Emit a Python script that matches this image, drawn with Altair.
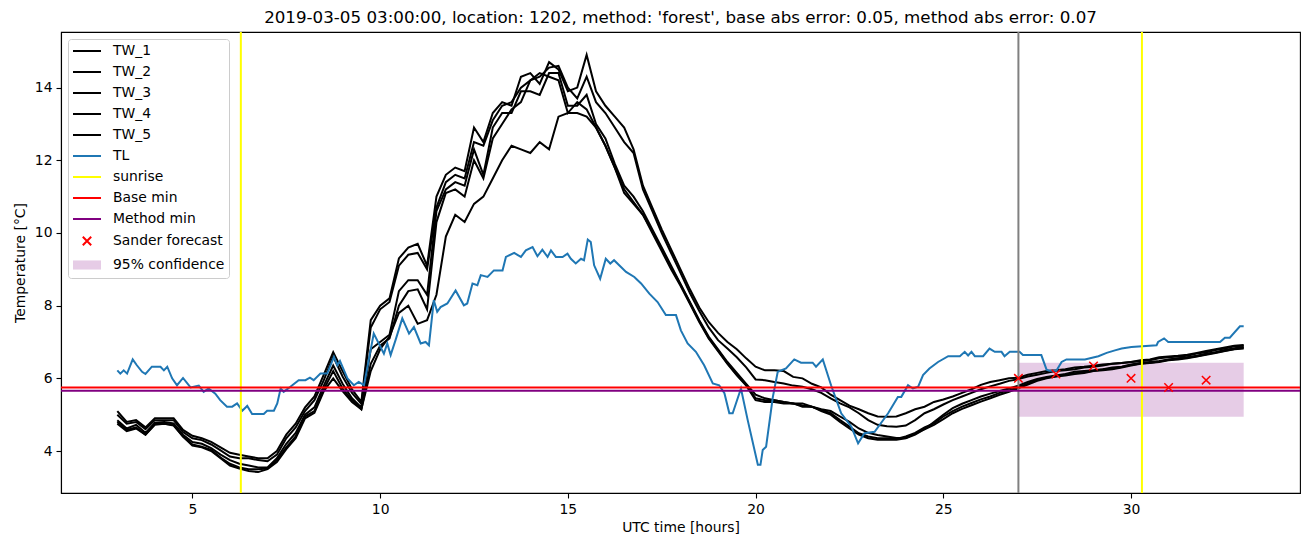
import altair as alt
import pandas as pd

# ---------------- data ----------------
hours = [3 + 0.25 * i for i in range(121)]

TW_1 = [5.1, 4.8, 4.85, 4.65,  4.9, 4.9, 4.9, 4.58,  4.42, 4.35, 4.25, 4.1,
        3.95, 3.9, 3.85, 3.8,  3.8, 4.0, 4.45, 4.75,  5.2, 5.5, 6.1, 6.72,
        6.2, 5.7, 5.35, 7.6,  8.0, 8.2, 9.3, 9.6,  9.7, 9.1, 11.0, 11.6,
        11.8, 11.7, 12.9, 12.5,  13.3, 13.6, 13.5, 14.3,  14.4, 14.1, 14.7, 14.5,
        13.9, 14.0, 14.9, 13.9,  13.5, 13.2, 12.9, 12.3,  11.3, 10.7, 10.1, 9.55,
        9.0, 8.45, 7.95, 7.55,  7.25, 7.0, 6.8, 6.55,  6.32, 6.22, 6.22, 6.2,
        6.04, 6.0, 5.85, 5.75,  5.55, 5.4, 5.25, 5.15,  5.04, 4.95, 4.94, 4.95,
        5.04, 5.15, 5.22, 5.35,  5.42, 5.5, 5.6, 5.7,  5.82, 5.9, 5.95, 6.0,
        6.02, 6.1, 6.15, 6.2,  6.22, 6.25, 6.3, 6.32,  6.35, 6.38, 6.4, 6.42,
        6.45, 6.5, 6.52, 6.58,  6.6, 6.62, 6.65, 6.7,  6.75, 6.8, 6.85, 6.9,
        6.92]
TW_2 = [5.0, 4.75, 4.8, 4.6,  4.85, 4.85, 4.85, 4.52,  4.35, 4.3, 4.18, 4.02,
        3.85, 3.8, 3.8, 3.75,  3.72, 3.9, 4.35, 4.65,  5.1, 5.4, 5.95, 6.6,
        6.05, 5.6, 5.3, 7.4,  7.9, 8.1, 9.1, 9.4,  9.45, 9.0, 10.7, 11.4,
        11.6, 11.5, 12.5, 12.4,  13.1, 13.5, 13.6, 14.0,  14.2, 14.3, 14.55, 14.6,
        14.0, 13.7, 14.3, 13.6,  13.3, 12.9, 12.5, 12.2,  11.2, 10.6, 10.0, 9.45,
        8.9, 8.35, 7.85, 7.4,  7.05, 6.82, 6.58, 6.3,  5.97, 5.95, 5.9, 5.86,
        5.8, 5.77, 5.7, 5.6,  5.45, 5.31, 5.2, 5.04,  4.85, 4.72, 4.68, 4.67,
        4.7, 4.85, 5.04, 5.15,  5.28, 5.4, 5.5, 5.6,  5.7, 5.78, 5.85, 5.93,
        5.98, 6.05, 6.1, 6.15,  6.2, 6.22, 6.25, 6.3,  6.32, 6.35, 6.4, 6.42,
        6.45, 6.47, 6.5, 6.55,  6.58, 6.6, 6.62, 6.68,  6.72, 6.78, 6.82, 6.88,
        6.9]
TW_3 = [4.85, 4.62, 4.72, 4.5,  4.78, 4.8, 4.76, 4.45,  4.25, 4.2, 4.08, 3.9,
        3.75, 3.65, 3.6, 3.55,  3.55, 3.8, 4.2, 4.5,  5.0, 5.2, 5.8, 6.35,
        5.85, 5.45, 5.2, 6.8,  7.0, 7.2, 8.4, 8.7,  8.7, 8.3, 10.6, 11.2,
        11.4, 11.3, 12.3, 11.6,  12.9, 13.3, 13.3, 13.9,  13.9, 13.8, 14.4, 14.4,
        13.5, 13.5, 13.8, 13.0,  12.6, 11.9, 11.3, 11.0,  10.6, 10.1, 9.6, 9.1,
        8.6, 8.1, 7.6, 7.15,  6.8, 6.45, 6.15, 5.85,  5.55, 5.45, 5.4, 5.35,
        5.31, 5.31, 5.22, 5.15,  5.1, 4.95, 4.8, 4.62,  4.5, 4.44, 4.4, 4.36,
        4.36, 4.48, 4.6, 4.8,  5.0, 5.18, 5.3, 5.4,  5.5, 5.58, 5.65, 5.72,
        5.8, 5.9, 5.98, 6.04,  6.08, 6.12, 6.18, 6.2,  6.22, 6.25, 6.3, 6.32,
        6.38, 6.42, 6.45, 6.48,  6.52, 6.55, 6.58, 6.62,  6.68, 6.72, 6.78, 6.83,
        6.86]
TW_4 = [4.8, 4.58, 4.65, 4.45,  4.75, 4.75, 4.72, 4.4,  4.18, 4.12, 4.03, 3.82,
        3.65, 3.55, 3.5, 3.5,  3.52, 3.75, 4.1, 4.4,  4.95, 5.1, 5.7, 6.2,
        5.72, 5.4, 5.15, 6.4,  6.9, 7.1, 8.0, 8.4,  8.45, 7.9, 10.3, 11.1,
        11.2, 11.0, 12.0, 11.5,  12.6, 13.0, 13.4, 13.6,  14.2, 14.4, 14.3, 14.2,
        13.3, 13.6, 13.4, 12.9,  12.4, 11.8, 11.1, 10.8,  10.5, 10.0, 9.5, 9.0,
        8.55, 8.05, 7.55, 7.1,  6.75, 6.4, 6.08, 5.8,  5.4, 5.35, 5.35, 5.31,
        5.31, 5.22, 5.22, 5.1,  5.0, 4.8, 4.62, 4.45,  4.35, 4.31, 4.31, 4.31,
        4.35, 4.45, 4.6, 4.72,  4.88, 5.04, 5.16, 5.26,  5.36, 5.45, 5.55, 5.63,
        5.73, 5.83, 5.93, 6.0,  6.05, 6.08, 6.12, 6.15,  6.2, 6.22, 6.25, 6.3,
        6.35, 6.4, 6.42, 6.45,  6.5, 6.52, 6.55, 6.6,  6.65, 6.7, 6.75, 6.8,
        6.82]
TW_5 = [4.75, 4.55, 4.62, 4.45,  4.72, 4.75, 4.7, 4.4,  4.15, 4.1, 4.0, 3.8,
        3.6, 3.52, 3.45, 3.42,  3.5, 3.7, 4.05, 4.35,  4.9, 5.05, 5.65, 6.0,
        5.65, 5.35, 5.15, 6.2,  6.8, 7.15, 7.8, 8.0,  7.5, 7.6, 8.3, 9.9,
        10.5, 10.3, 10.8, 11.0,  11.5, 12.0, 12.4, 12.3,  12.2, 12.5, 12.3, 13.2,
        13.3, 13.3, 13.2, 12.9,  12.4, 11.8, 11.2, 10.85,  10.5, 10.05, 9.55, 9.05,
        8.58, 8.08, 7.58, 7.12,  6.77, 6.42, 6.1, 5.82,  5.45, 5.4, 5.4, 5.35,
        5.31, 5.25, 5.22, 5.13,  5.04, 4.85, 4.67, 4.49,  4.4, 4.35, 4.35, 4.33,
        4.4, 4.5, 4.65, 4.76,  4.95, 5.1, 5.22, 5.32,  5.42, 5.5, 5.6, 5.67,
        5.76, 5.85, 5.95, 6.02,  6.06, 6.1, 6.14, 6.17,  6.21, 6.24, 6.27, 6.31,
        6.37, 6.41, 6.43, 6.46,  6.51, 6.54, 6.57, 6.61,  6.66, 6.71, 6.76, 6.81,
        6.84]

tl_hours = [3.0, 3.08, 3.17, 3.26, 3.41, 3.52, 3.66, 3.75, 3.92, 4.15, 4.24, 4.33,
            4.46, 4.59, 4.75, 4.95, 5.17, 5.3, 5.43, 5.61, 5.74, 5.92, 6.06, 6.19,
            6.33, 6.46, 6.59, 6.9, 6.99, 7.17, 7.26, 7.35, 7.43, 7.61, 7.83, 8.01,
            8.13, 8.23, 8.41, 8.59, 8.77, 8.86, 8.93, 9.13, 9.3, 9.43, 9.57, 9.83,
            10.1, 10.19, 10.28, 10.41, 10.59, 10.77, 10.9, 11.08, 11.21, 11.3, 11.43, 11.52,
            11.61, 11.79, 12.01, 12.23, 12.32, 12.46, 12.59, 12.68, 12.86, 13.03, 13.26, 13.35,
            13.57, 13.75, 13.88, 14.06, 14.19, 14.32, 14.46, 14.55, 14.68, 14.86, 14.99, 15.08,
            15.21, 15.35, 15.43, 15.53, 15.61, 15.7, 15.86, 16.01, 16.13, 16.23, 16.55, 16.77,
            16.95, 17.17, 17.39, 17.61, 17.88, 18.01, 18.19, 18.41, 18.63, 18.86, 19.03, 19.17,
            19.3, 19.39, 19.61, 19.79, 20.06, 20.13, 20.19, 20.28, 20.46, 20.59, 20.81, 21.03,
            21.21, 21.52, 21.61, 21.79, 22.01, 22.28, 22.55, 22.73, 22.9, 23.17, 23.53, 23.79,
            23.88, 24.06, 24.19, 24.33, 24.46, 24.63, 24.86, 25.13, 25.44, 25.57, 25.66, 25.75,
            25.84, 26.06, 26.23, 26.37, 26.55, 26.63, 26.77, 27.03, 27.12, 27.61, 27.75, 27.83,
            28.01, 28.15, 28.28, 28.77, 29.13, 29.35, 29.57, 29.75, 30.01, 30.68, 30.72, 30.88,
            30.99, 32.37, 32.5, 32.63, 32.9, 33.0]
tl_values = [6.22, 6.13, 6.22, 6.13, 6.52, 6.36, 6.18, 6.12, 6.32, 6.32, 6.22, 6.32,
             6.0, 5.81, 6.01, 5.75, 5.8, 5.63, 5.72, 5.58, 5.4, 5.22, 5.22, 5.31,
             5.11, 5.24, 5.02, 5.02, 5.11, 5.11, 5.31, 5.72, 5.63, 5.77, 5.95, 5.95,
             6.02, 5.95, 6.13, 6.13, 6.59, 6.36, 6.48, 6.0, 5.81, 5.9, 5.81, 7.23,
             6.68, 6.96, 6.64, 7.05, 7.65, 7.23, 7.41, 6.96, 7.0, 6.91, 8.15, 7.83,
             7.96, 8.06, 8.42, 8.01, 8.06, 8.61, 8.56, 8.84, 8.79, 8.97, 8.97, 9.34,
             9.45, 9.34, 9.52, 9.61, 9.36, 9.54, 9.34, 9.52, 9.34, 9.34, 9.43, 9.29,
             9.16, 9.29, 9.25, 9.82, 9.75, 9.11, 8.74, 9.29, 9.16, 9.25, 8.93, 8.79,
             8.61, 8.33, 8.1, 7.74, 7.74, 7.32, 6.96, 6.73, 6.36, 5.86, 5.81, 5.59,
             5.04, 5.04, 5.72, 4.85, 3.62, 3.62, 4.03, 4.12, 5.49, 6.18, 6.27, 6.52,
             6.43, 6.43, 6.32, 6.52, 5.81, 5.04, 4.67, 4.21, 4.49, 4.53, 5.04, 5.49,
             5.49, 5.81, 5.72, 5.77, 6.09, 6.27, 6.45, 6.61, 6.61, 6.73, 6.63, 6.73,
             6.61, 6.61, 6.82, 6.73, 6.73, 6.61, 6.73, 6.73, 6.64, 6.64, 6.24, 6.21,
             6.21, 6.45, 6.52, 6.52, 6.61, 6.7, 6.77, 6.82, 6.86, 6.91, 7.0, 7.1,
             7.0, 7.0, 7.12, 7.12, 7.43, 7.43]

sunrise_hours = [6.29, 30.29]
forecast_start_hour = [27.0]
base_min = [5.75]
method_min = [5.66]
forecast_hours = [27, 28, 29, 30, 31, 32]
forecast_values = [6.0, 6.12, 6.34, 6.0, 5.75, 5.95]
conf_hours = [27.0, 33.0]
conf_bounds = [4.94, 6.43]

title_text = ("2019-03-05 03:00:00, location: 1202, method: 'forest', "
              "base abs error: 0.05, method abs error: 0.07")

legend_labels = ["TW_1", "TW_2", "TW_3", "TW_4", "TW_5", "TL", "sunrise",
                 "Base min", "Method min", "Sander forecast", "95% confidence"]

# ---------------- styling ----------------
FONT = "DejaVu Sans"
FS = 13.9
# legend symbol paths (unit = 7 px with symbolSize 196); handles span 28 px
LINE_PATH = "M-1,0L3,0"
X_PATH = "M0.4,-0.6L1.6,0.6M0.4,0.6L1.6,-0.6"
RECT_PATH = "M-1,-0.65L3,-0.65L3,0.65L-1,0.65Z"
legend_strokes = ["black"] * 5 + ["#1f77b4", "#ffff00", "#ff0000", "#800080", "#ff0000", "transparent"]
legend_fills = ["transparent"] * 10 + ["#e6cce6"]
legend_shapes = [LINE_PATH] * 9 + [X_PATH, RECT_PATH]

xscale = alt.Scale(domain=[1.5, 34.5], nice=False, zero=False)
yscale = alt.Scale(domain=[2.845, 15.53], nice=False, zero=False)
xaxis = alt.Axis(values=[5, 10, 15, 20, 25, 30], format="d", title="UTC time [hours]",
                 grid=False, tickSize=5, labelPadding=4, titlePadding=5)
yaxis = alt.Axis(values=[4, 6, 8, 10, 12, 14], format="d", title="Temperature [°C]",
                 grid=False, tickSize=5, labelPadding=4, titlePadding=7)

X = lambda f: alt.X(f, type="quantitative", scale=xscale, axis=xaxis)
Y = lambda f: alt.Y(f, type="quantitative", scale=yscale, axis=yaxis)

# ---------------- layers ----------------
tw_rows = []
for name, vals in zip(["TW_1", "TW_2", "TW_3", "TW_4", "TW_5"], [TW_1, TW_2, TW_3, TW_4, TW_5]):
    for h, v in zip(hours, vals):
        tw_rows.append({"series": name, "hour": h, "temp": v})
tw_df = pd.DataFrame(tw_rows)
tl_df = pd.DataFrame({"hour": tl_hours, "temp": tl_values})

band = alt.Chart(pd.DataFrame({"h1": [conf_hours[0]], "h2": [conf_hours[1]],
                               "lo": [conf_bounds[0]], "hi": [conf_bounds[1]]})).mark_rect(
    color="#800080", opacity=0.2).encode(x=X("h1"), x2="h2", y=Y("lo"), y2="hi")

tw = alt.Chart(tw_df).mark_line(color="black", strokeWidth=2).encode(
    x=X("hour"), y=Y("temp"), detail="series:N")

tl = alt.Chart(tl_df).mark_line(color="#1f77b4", strokeWidth=2).encode(
    x=X("hour"), y=Y("temp"))

sunrise = alt.Chart(pd.DataFrame({"hour": sunrise_hours})).mark_rule(
    color="#ffff00", strokeWidth=2).encode(x=X("hour"))

fstart = alt.Chart(pd.DataFrame({"hour": forecast_start_hour})).mark_rule(
    color="#808080", strokeWidth=2).encode(x=X("hour"))

bmin = alt.Chart(pd.DataFrame({"temp": base_min})).mark_rule(
    color="#ff0000", strokeWidth=2).encode(y=Y("temp"))

mmin = alt.Chart(pd.DataFrame({"temp": method_min})).mark_rule(
    color="#800080", strokeWidth=2).encode(y=Y("temp"))

fc = alt.Chart(pd.DataFrame({"hour": forecast_hours, "temp": forecast_values})).mark_point(
    shape="M-1,-1L1,1M-1,1L1,-1", size=72, color="#ff0000", filled=False,
    strokeWidth=1.5, opacity=1).encode(x=X("hour"), y=Y("temp"))

leg = alt.Legend(title=None, orient="none", legendX=7, legendY=7, padding=4,
                 fillColor="rgba(255,255,255,0.8)", strokeColor="#cccccc", cornerRadius=3,
                 labelFontSize=FS, labelFont=FONT, labelColor="black", symbolSize=196,
                 symbolStrokeWidth=2, labelOffset=25, rowPadding=6, labelLimit=300,
                 symbolOpacity=1)

legend_layer = alt.Chart(pd.DataFrame({"label": legend_labels})).transform_filter(
    "false").mark_point(strokeWidth=2, opacity=1).encode(
    stroke=alt.Stroke("label:N", scale=alt.Scale(domain=legend_labels, range=legend_strokes), legend=leg),
    fill=alt.Fill("label:N", scale=alt.Scale(domain=legend_labels, range=legend_fills), legend=leg),
    shape=alt.Shape("label:N", scale=alt.Scale(domain=legend_labels, range=legend_shapes), legend=leg),
)

chart = alt.layer(band, tw, tl, sunrise, fstart, bmin, mmin, fc, legend_layer).properties(
    width=1239, height=461,
    title=alt.TitleParams(title_text, fontSize=16.7, font=FONT, fontWeight="normal",
                          anchor="middle", color="black", offset=4),
    padding={"left": 53, "top": 24, "right": 2, "bottom": 46},
    autosize="none",
).configure(font=FONT).configure_view(stroke="black", strokeWidth=1.1).configure_axis(
    labelFont=FONT, titleFont=FONT, labelFontSize=FS, titleFontSize=FS,
    titleFontWeight="normal", labelColor="black", titleColor="black",
    domainColor="black", tickColor="black", domainWidth=1.1, tickWidth=1.1)

chart.save("out.html", embed_options={"renderer": "svg", "actions": False})
